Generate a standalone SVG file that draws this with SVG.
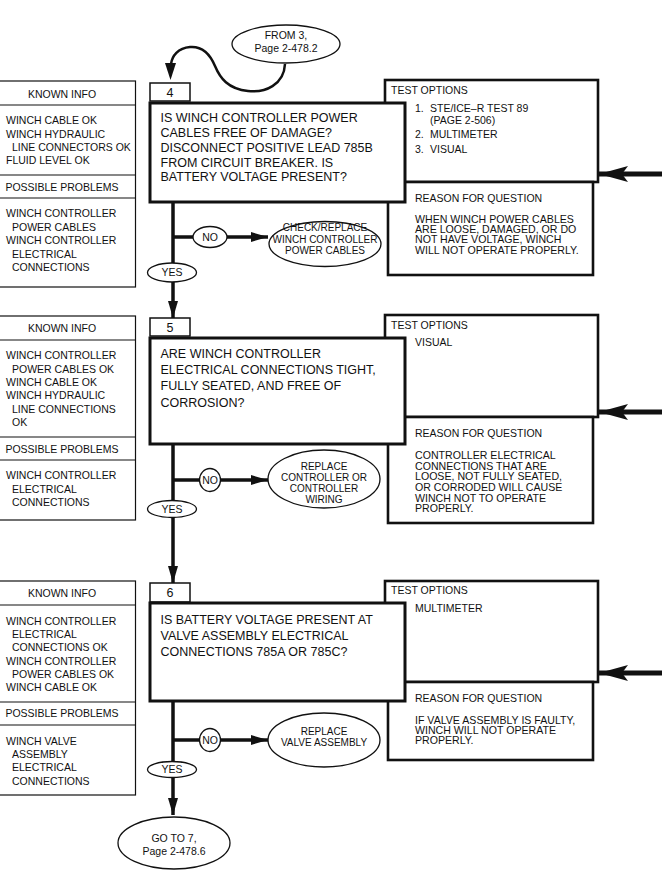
<svg xmlns="http://www.w3.org/2000/svg" width="668" height="883" viewBox="0 0 668 883">
<defs>
<style>
text{font-family:"Liberation Sans",Arial,sans-serif;fill:#111;}
.k{font-size:10.5px;}
.kc{font-size:10.5px;text-anchor:middle;}
.q{font-size:12.5px;}
.t{font-size:10.5px;}
.r{font-size:10.6px;}
.e{font-size:10px;text-anchor:middle;}
.ec{font-size:10.5px;text-anchor:middle;}
.kbox{fill:#fff;stroke:#111;stroke-width:1.2;}
.nbox{fill:#fff;stroke:#111;stroke-width:1.5;}
.qbox{fill:#fff;stroke:#111;stroke-width:3;}
.tbox{fill:#fff;stroke:#111;stroke-width:2.6;}
.ell{fill:#fff;stroke:#111;stroke-width:1.3;}
.flow{fill:none;stroke:#111;stroke-width:3.5;}
.curve{fill:none;stroke:#111;stroke-width:2.5;}
.big{fill:none;stroke:#111;stroke-width:5;}
</style>
<marker id="ah" markerUnits="userSpaceOnUse" markerWidth="18" markerHeight="10" refX="17" refY="5" orient="auto">
<path d="M0,0 L17,5 L0,10 Z" fill="#111"/>
</marker>
<marker id="bh" markerUnits="userSpaceOnUse" markerWidth="30" markerHeight="16" refX="29" refY="8" orient="auto">
<path d="M0,0 L29,8 L0,16 L6,8 Z" fill="#111"/>
</marker>
</defs>

<g id="connectors">
<path class="curve" d="M285,64 C284,85 265,93 248,91 C228,89 220,78 215,66 C210,54 202,46 190,47 C178,48 172,56 171,64" />
<path d="M165,63 L176,63 L170.5,80 Z" fill="#111"/>
<line class="flow" x1="173" y1="202" x2="173" y2="318" marker-end="url(#ah)"/>
<line class="flow" x1="173" y1="237" x2="268" y2="237" marker-end="url(#ah)"/>
<line class="flow" x1="173" y1="444" x2="173" y2="583" marker-end="url(#ah)"/>
<line class="flow" x1="173" y1="480" x2="268" y2="480" marker-end="url(#ah)"/>
<line class="flow" x1="173" y1="702" x2="173" y2="815" marker-end="url(#ah)"/>
<line class="flow" x1="173" y1="740" x2="268" y2="740" marker-end="url(#ah)"/>
<line class="big" x1="662" y1="174" x2="599" y2="174" marker-end="url(#bh)"/>
<line class="big" x1="662" y1="412" x2="599" y2="412" marker-end="url(#bh)"/>
<line class="big" x1="662" y1="673" x2="599" y2="673" marker-end="url(#bh)"/>
</g>

<g id="from3">
<ellipse class="ell" cx="286" cy="44" rx="54" ry="19"/>
<text class="ec" x="286" y="38.7">FROM 3,</text>
<text class="ec" x="286" y="51.7">Page 2-478.2</text>
</g>

<!-- Step 4 -->
<g id="known4">
<rect class="kbox" x="-1" y="81" width="136.5" height="206"/>
<line class="kbox" x1="-1" y1="105" x2="135.5" y2="105"/>
<line class="kbox" x1="-1" y1="175" x2="135.5" y2="175"/>
<line class="kbox" x1="-1" y1="198" x2="135.5" y2="198"/>
<text class="kc" x="62" y="97.7">KNOWN INFO</text>
<text class="k" x="6" y="124">WINCH CABLE OK</text>
<text class="k" x="6" y="137.5">WINCH HYDRAULIC</text>
<text class="k" x="12" y="151">LINE CONNECTORS OK</text>
<text class="k" x="6" y="164">FLUID LEVEL OK</text>
<text class="kc" x="62" y="190.7">POSSIBLE PROBLEMS</text>
<text class="k" x="6" y="216.7">WINCH CONTROLLER</text>
<text class="k" x="12" y="230.5">POWER CABLES</text>
<text class="k" x="6" y="243.7">WINCH CONTROLLER</text>
<text class="k" x="12" y="257.5">ELECTRICAL</text>
<text class="k" x="12" y="270.7">CONNECTIONS</text>
</g>
<g id="num4">
<rect class="nbox" x="150" y="83" width="40" height="18"/>
<text class="q" x="170" y="96.5" text-anchor="middle">4</text>
</g>
<g id="test4">
<rect class="tbox" x="385" y="80" width="213" height="102"/>
<text class="t" x="391" y="93.7">TEST OPTIONS</text>
<text class="t" x="415" y="111.7">1.</text>
<text class="t" x="430" y="111.7">STE/ICE–R TEST 89</text>
<text class="t" x="430" y="123.7">(PAGE 2-506)</text>
<text class="t" x="415" y="137.7">2.</text>
<text class="t" x="430" y="137.7">MULTIMETER</text>
<text class="t" x="415" y="152.7">3.</text>
<text class="t" x="430" y="152.7">VISUAL</text>
</g>
<g id="reason4">
<rect class="tbox" x="388" y="182" width="205" height="93"/>
<text class="t" x="415" y="201.7">REASON FOR QUESTION</text>
<text class="r" x="415" y="222.7">WHEN WINCH POWER CABLES</text>
<text class="r" x="415" y="232.7">ARE LOOSE, DAMAGED, OR DO</text>
<text class="r" x="415" y="242.7">NOT HAVE VOLTAGE, WINCH</text>
<text class="r" x="415" y="253.7">WILL NOT OPERATE PROPERLY.</text>
</g>
<g id="question4">
<rect class="qbox" x="150" y="103" width="255" height="99"/>
<text class="q" x="160.5" y="122.4">IS WINCH CONTROLLER POWER</text>
<text class="q" x="160.5" y="137.2">CABLES FREE OF DAMAGE?</text>
<text class="q" x="160.5" y="152">DISCONNECT POSITIVE LEAD 785B</text>
<text class="q" x="160.5" y="166.6">FROM CIRCUIT BREAKER. IS</text>
<text class="q" x="160.5" y="181.4">BATTERY VOLTAGE PRESENT?</text>
</g>
<g id="no4">
<ellipse class="ell" cx="210" cy="237" rx="17" ry="10.5"/>
<text class="ec" x="210" y="240.7">NO</text>
</g>
<g id="fix4">
<ellipse class="ell" cx="325" cy="244" rx="56" ry="22.5"/>
<text class="e" x="325" y="230.5">CHECK/REPLACE</text>
<text class="e" x="325" y="242.5">WINCH CONTROLLER</text>
<text class="e" x="325" y="253.5">POWER CABLES</text>
</g>
<g id="yes4">
<ellipse class="ell" cx="172" cy="272.5" rx="24.5" ry="9.5"/>
<text class="ec" x="172" y="276.2">YES</text>
</g>

<!-- Step 5 -->
<g id="known5">
<rect class="kbox" x="-1" y="316" width="136.5" height="204"/>
<line class="kbox" x1="-1" y1="340" x2="135.5" y2="340"/>
<line class="kbox" x1="-1" y1="437" x2="135.5" y2="437"/>
<line class="kbox" x1="-1" y1="460" x2="135.5" y2="460"/>
<text class="kc" x="62" y="331.7">KNOWN INFO</text>
<text class="k" x="6" y="358.7">WINCH CONTROLLER</text>
<text class="k" x="12" y="372.5">POWER CABLES OK</text>
<text class="k" x="6" y="385.7">WINCH CABLE OK</text>
<text class="k" x="6" y="398.7">WINCH HYDRAULIC</text>
<text class="k" x="12" y="412.7">LINE CONNECTIONS</text>
<text class="k" x="12" y="425.7">OK</text>
<text class="kc" x="62" y="452.7">POSSIBLE PROBLEMS</text>
<text class="k" x="6" y="478.7">WINCH CONTROLLER</text>
<text class="k" x="12" y="492.5">ELECTRICAL</text>
<text class="k" x="12" y="505.7">CONNECTIONS</text>
</g>
<g id="num5">
<rect class="nbox" x="150" y="318" width="40" height="18"/>
<text class="q" x="170" y="331.5" text-anchor="middle">5</text>
</g>
<g id="test5">
<rect class="tbox" x="385" y="315" width="213" height="102"/>
<text class="t" x="391" y="328.7">TEST OPTIONS</text>
<text class="t" x="415" y="345.7">VISUAL</text>
</g>
<g id="reason5">
<rect class="tbox" x="388" y="417" width="205" height="106"/>
<text class="t" x="415" y="436.7">REASON FOR QUESTION</text>
<text class="r" x="415" y="458.7">CONTROLLER ELECTRICAL</text>
<text class="r" x="415" y="469.7">CONNECTIONS THAT ARE</text>
<text class="r" x="415" y="479.7">LOOSE, NOT FULLY SEATED,</text>
<text class="r" x="415" y="490.7">OR CORRODED WILL CAUSE</text>
<text class="r" x="415" y="501.7">WINCH NOT TO OPERATE</text>
<text class="r" x="415" y="511.7">PROPERLY.</text>
</g>
<g id="question5">
<rect class="qbox" x="150" y="338" width="255" height="106"/>
<text class="q" x="160.5" y="357.5">ARE WINCH CONTROLLER</text>
<text class="q" x="160.5" y="373.5">ELECTRICAL CONNECTIONS TIGHT,</text>
<text class="q" x="160.5" y="390">FULLY SEATED, AND FREE OF</text>
<text class="q" x="160.5" y="406.5">CORROSION?</text>
</g>
<g id="no5">
<ellipse class="ell" cx="210" cy="480" rx="10.5" ry="11.5"/>
<text class="ec" x="210" y="483.7">NO</text>
</g>
<g id="fix5">
<ellipse class="ell" cx="324" cy="479" rx="56" ry="29"/>
<text class="e" x="324" y="469.5">REPLACE</text>
<text class="e" x="324" y="480.5">CONTROLLER OR</text>
<text class="e" x="324" y="491.5">CONTROLLER</text>
<text class="e" x="324" y="502.5">WIRING</text>
</g>
<g id="yes5">
<ellipse class="ell" cx="172" cy="509" rx="24.5" ry="8.5"/>
<text class="ec" x="172" y="512.7">YES</text>
</g>

<!-- Step 6 -->
<g id="known6">
<rect class="kbox" x="-1" y="581" width="136.5" height="214"/>
<line class="kbox" x1="-1" y1="605" x2="135.5" y2="605"/>
<line class="kbox" x1="-1" y1="702" x2="135.5" y2="702"/>
<line class="kbox" x1="-1" y1="725" x2="135.5" y2="725"/>
<text class="kc" x="62" y="596.7">KNOWN INFO</text>
<text class="k" x="6" y="624.7">WINCH CONTROLLER</text>
<text class="k" x="12" y="637.7">ELECTRICAL</text>
<text class="k" x="12" y="650.7">CONNECTIONS OK</text>
<text class="k" x="6" y="664.7">WINCH CONTROLLER</text>
<text class="k" x="12" y="677.7">POWER CABLES OK</text>
<text class="k" x="6" y="690.7">WINCH CABLE OK</text>
<text class="kc" x="62" y="716.7">POSSIBLE PROBLEMS</text>
<text class="k" x="6" y="744.7">WINCH VALVE</text>
<text class="k" x="12" y="757.7">ASSEMBLY</text>
<text class="k" x="12" y="770.7">ELECTRICAL</text>
<text class="k" x="12" y="784.7">CONNECTIONS</text>
</g>
<g id="num6">
<rect class="nbox" x="150" y="583" width="40" height="19"/>
<text class="q" x="170" y="597" text-anchor="middle">6</text>
</g>
<g id="test6">
<rect class="tbox" x="385" y="581" width="213" height="101"/>
<text class="t" x="391" y="593.7">TEST OPTIONS</text>
<text class="t" x="415" y="611.7">MULTIMETER</text>
</g>
<g id="reason6">
<rect class="tbox" x="388" y="682" width="205" height="78"/>
<text class="t" x="415" y="701.7">REASON FOR QUESTION</text>
<text class="r" x="415" y="723.7">IF VALVE ASSEMBLY IS FAULTY,</text>
<text class="r" x="415" y="733.7">WINCH WILL NOT OPERATE</text>
<text class="r" x="415" y="743.7">PROPERLY.</text>
</g>
<g id="question6">
<rect class="qbox" x="150" y="603" width="255" height="98"/>
<text class="q" x="160.5" y="623.5">IS BATTERY VOLTAGE PRESENT AT</text>
<text class="q" x="160.5" y="639.5">VALVE ASSEMBLY ELECTRICAL</text>
<text class="q" x="160.5" y="655.5">CONNECTIONS 785A OR 785C?</text>
</g>
<g id="no6">
<ellipse class="ell" cx="210" cy="740" rx="10.5" ry="11.5"/>
<text class="ec" x="210" y="743.7">NO</text>
</g>
<g id="fix6">
<ellipse class="ell" cx="324" cy="740" rx="56" ry="27"/>
<text class="e" x="324" y="734.5">REPLACE</text>
<text class="e" x="324" y="745.5">VALVE ASSEMBLY</text>
</g>
<g id="yes6">
<ellipse class="ell" cx="172" cy="769.5" rx="24.5" ry="8"/>
<text class="ec" x="172" y="773.2">YES</text>
</g>
<g id="goto7">
<ellipse class="ell" cx="174" cy="843" rx="56" ry="26"/>
<text class="ec" x="174" y="841.7">GO TO 7,</text>
<text class="ec" x="174" y="854.7">Page 2-478.6</text>
</g>
</svg>
